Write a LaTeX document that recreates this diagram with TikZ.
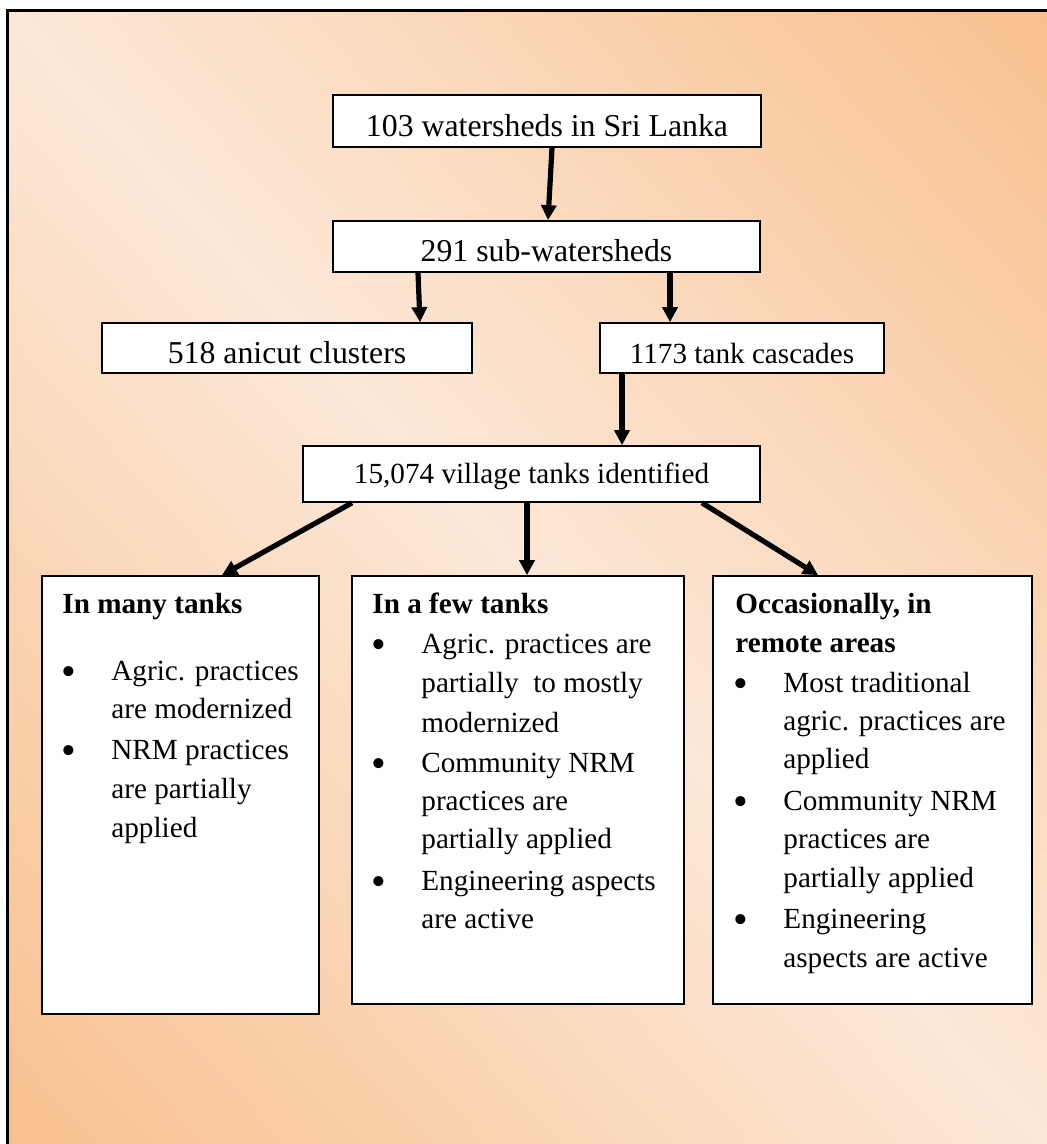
\documentclass[tikz,border=0pt]{standalone}
\usepackage{fontspec}
\setmainfont{Liberation Serif}
\usetikzlibrary{arrows.meta}
\definecolor{peachL}{RGB}{252,232,216}
\definecolor{peachO}{RGB}{248,192,142}
\pgfdeclarehorizontalshading{peachsh}{100bp}{color(0bp)=(peachO); color(25bp)=(peachO); color(50bp)=(peachL); color(75bp)=(peachO); color(100bp)=(peachO)}
\begin{document}
\begin{tikzpicture}[x=0.5pt,y=-0.5pt,
  box/.style={draw=black, line width=0.85pt, fill=white, inner sep=0pt},
  bigf/.style={font=\fontsize{15.9pt}{19pt}\selectfont},
  smallf/.style={font=\fontsize{14.6pt}{19.5pt}\selectfont},
  txtline/.style={anchor=base west, inner sep=0pt, font=\fontsize{14.6pt}{19.5pt}\selectfont},
  headline/.style={anchor=base west, inner sep=0pt, font=\fontsize{14.6pt}{19.5pt}\selectfont\bfseries},
  bul/.style={anchor=base, inner sep=0pt, font=\fontsize{21pt}{24pt}\selectfont},
  arr/.style={line width=2.6pt, -{Triangle[width=7.5pt,length=7.5pt]}}
]
\useasboundingbox (0,0) rectangle (1047,1144);
\fill[white] (0,0) rectangle (1047,1144);
\begin{scope}
\clip (7,11) rectangle (1047,1144);
\begin{scope}[transform canvas={shift={(527,577.5)}, rotate=42.55}]
\shade[shading=peachsh] (-766,-800) rectangle (766,800);
\end{scope}
\end{scope}
\draw[line width=1.5pt] (7,1170) -- (7,11) -- (1070,11);

% top boxes
\node[box, bigf, minimum width=214pt, minimum height=26pt, text height=16pt, text depth=0pt] (b1) at (547,121) {103 watersheds in Sri Lanka};
\node[box, bigf, minimum width=213.5pt, minimum height=25.5pt, text height=15pt, text depth=0pt] (b2) at (546.5,246.5) {291 sub-watersheds};
\node[box, bigf, minimum width=185pt, minimum height=25pt, text height=15pt, text depth=0pt] (b3) at (287,348) {518 anicut clusters};
\node[box, smallf, minimum width=142pt, minimum height=25pt, text height=15pt, text depth=0pt] (b4) at (742,348) {1173 tank cascades};
\node[box, smallf, minimum width=228.5pt, minimum height=28pt, text height=9pt, text depth=0pt] (b5) at (531.5,474) {15,074 village tanks identified};

% bottom boxes
\node[box, minimum width=138.5pt, minimum height=219pt] (c1) at (180.5,795) {};
\node[box, minimum width=166pt, minimum height=214pt] (c2) at (518,790) {};
\node[box, minimum width=159.5pt, minimum height=214pt] (c3) at (872.5,790) {};

% arrows
\draw[arr] ([xshift=2.5pt]b1.south) -- ([xshift=0.75pt]b2.north);
\draw[arr] ([xshift=-64.25pt]b2.south) -- ([xshift=66.5pt]b3.north);
\draw[arr] ([xshift=61.75pt]b2.south) -- ([xshift=-36pt]b4.north);
\draw[arr] ([xshift=-60pt]b4.south) -- ([xshift=45.25pt]b5.north);
\draw[arr] ([xshift=-89.75pt]b5.south) -- ([xshift=20.75pt]c1.north);
\draw[arr] ([xshift=-2.25pt]b5.south) -- ([xshift=4.5pt]c2.north);
\draw[arr] ([xshift=85.25pt]b5.south) -- ([xshift=-27.25pt]c3.north);

% box 1 text
\node[headline] (c1h) at (62,613) {In many tanks};
\node[bul] (c1ba) at (69,685) {•};
\node[txtline] (c1a1) at (111,680) {Agric. practices};
\node[txtline] (c1a2) at (111,718) {are modernized};
\node[bul] (c1bb) at (69,764) {•};
\node[txtline] (c1b1) at (111,759) {NRM practices};
\node[txtline] (c1b2) at (111,798) {are partially};
\node[txtline] (c1b3) at (111,837) {applied};

% box 2 text
\node[headline] (c2h) at (372,613) {In a few tanks};
\node[bul] (c2ba) at (379,658) {•};
\node[txtline] (c2a1) at (421,653) {Agric. practices are};
\node[txtline] (c2a2) at (421,692) {partially\ \ to mostly};
\node[txtline] (c2a3) at (421,732) {modernized};
\node[bul] (c2bb) at (379,777) {•};
\node[txtline] (c2b1) at (421,772) {Community NRM};
\node[txtline] (c2b2) at (421,810) {practices are};
\node[txtline] (c2b3) at (421,848) {partially applied};
\node[bul] (c2bc) at (379,895) {•};
\node[txtline] (c2c1) at (421,890) {Engineering aspects};
\node[txtline] (c2c2) at (421,928) {are active};

% box 3 text
\node[headline] (c3h1) at (735,613) {Occasionally, in};
\node[headline] (c3h2) at (735,652) {remote areas};
\node[bul] (c3ba) at (741,697) {•};
\node[txtline] (c3a1) at (783,692) {Most traditional};
\node[txtline] (c3a2) at (783,730) {agric. practices are};
\node[txtline] (c3a3) at (783,768) {applied};
\node[bul] (c3bb) at (741,815) {•};
\node[txtline] (c3b1) at (783,810) {Community NRM};
\node[txtline] (c3b2) at (783,848) {practices are};
\node[txtline] (c3b3) at (783,887) {partially applied};
\node[bul] (c3bc) at (741,933) {•};
\node[txtline] (c3c1) at (783,928) {Engineering};
\node[txtline] (c3c2) at (783,967) {aspects are active};
\end{tikzpicture}
\end{document}
